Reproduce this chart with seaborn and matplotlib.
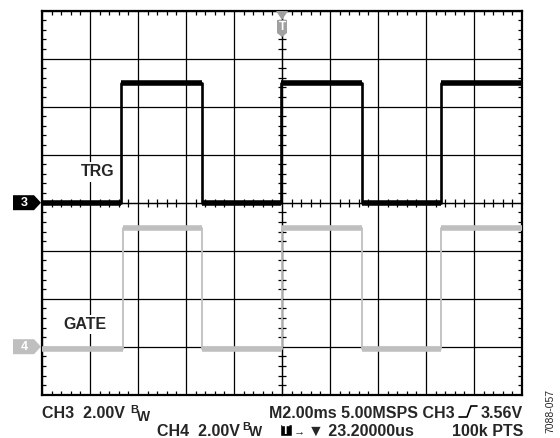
#!/usr/bin/env python3
import matplotlib
matplotlib.use('Agg')
import matplotlib.pyplot as plt
import matplotlib.ticker as plticker
from matplotlib.patches import Polygon
import seaborn as sns

# scope screen: 2 ms/div on x (trigger at centre), 2 V/div on y, values in divisions
trg_edges_ms = [-10.0, -6.71, -3.35, -0.04, 3.32, 6.61, 10.0]
trg_levels_div = [0.0, 2.5, 0.0, 2.5, 0.0, 2.5, 2.5]
gate_edges_ms = [-10.0, -6.64, -3.33, 0.0, 3.32, 6.63, 10.0]
gate_levels_div = [-3.05, -0.53, -3.05, -0.53, -3.05, -0.53, -0.53]

ch3_ground_div = 0.0
ch4_ground_div = -3.0
trace_labels = ['TRG', 'GATE']

status_row1 = ['CH3  2.00V', 'M2.00ms 5.00MSPS CH3', '3.56V']
status_row2 = ['CH4  2.00V', '\u2192', '\u25bc 23.20000us', '100k PTS']
figure_code = '7088-057'

BLACK = '#000000'
GRAY = '#bfbfbf'
MARKER_GRAY = '#a0a0a0'
W, H = 560, 438


def px(x, y):
    # pixel position (from top-left) -> figure fraction
    return x / W, 1 - y / H


def main():
    sns.set_style('white')
    plt.rcParams['font.family'] = ['Liberation Sans', 'DejaVu Sans']

    fig = plt.figure(figsize=(W / 100, H / 100), dpi=100)
    l, b = px(42, 394.7)
    ax = fig.add_axes([l, b, 480 / W, 384 / H])
    ax.set_xlim(-10, 10)
    ax.set_ylim(-4, 4)

    # grid and ticks
    ax.xaxis.set_major_locator(plticker.MultipleLocator(2))
    ax.yaxis.set_major_locator(plticker.MultipleLocator(1))
    ax.xaxis.set_minor_locator(plticker.MultipleLocator(0.4))
    ax.yaxis.set_minor_locator(plticker.MultipleLocator(0.2))
    ax.grid(True, which='major', color=BLACK, lw=0.9, zorder=0)
    ax.tick_params(which='major', length=0, labelbottom=False, labelleft=False)
    ax.tick_params(which='minor', direction='in', length=3, width=0.9, color=BLACK,
                   top=True, right=True, bottom=True, left=True)
    for sp in ax.spines.values():
        sp.set_color(BLACK)
        sp.set_linewidth(1.6)

    # centre cross lines with ticks
    sec_x = ax.secondary_xaxis(0.5)
    sec_y = ax.secondary_yaxis(0.5)
    for sec, axis, major, minor in ((sec_x, sec_x.xaxis, 2, 0.4), (sec_y, sec_y.yaxis, 1, 0.2)):
        axis.set_major_locator(plticker.MultipleLocator(major))
        axis.set_minor_locator(plticker.MultipleLocator(minor))
        sec.tick_params(which='major', length=0, labelbottom=False, labelleft=False,
                        labeltop=False, labelright=False)
        sec.tick_params(which='minor', direction='inout', length=6, width=0.9, color=BLACK)
        for sp in sec.spines.values():
            sp.set_color(BLACK)
            sp.set_linewidth(0.9)

    # traces
    for edges, levels, color, lw in ((gate_edges_ms, gate_levels_div, GRAY, 1.3),
                                     (trg_edges_ms, trg_levels_div, BLACK, 1.9)):
        sns.lineplot(x=edges, y=levels, drawstyle='steps-post', color=color, lw=lw,
                     estimator=None, sort=False, ax=ax, zorder=3)
        ax.hlines(levels[:-1], edges[:-1], edges[1:], color=color, lw=4.0, zorder=3)

    # trace labels
    label_box = dict(facecolor='white', edgecolor='none', pad=1.5)
    ax.text(-7.67, 0.64, trace_labels[0], fontsize=11.5, fontweight='bold', ha='center',
            va='center', bbox=label_box, zorder=4)
    ax.text(-8.2, -2.53, trace_labels[1], fontsize=11.5, fontweight='bold', ha='center',
            va='center', bbox=label_box, zorder=4)

    # ground markers on the left
    for ground, color, name in ((ch3_ground_div, BLACK, '3'), (ch4_ground_div, GRAY, '4')):
        yc = 202.7 - ground * 48
        pts = [px(13, yc - 7.5), px(34, yc - 7.5), px(41, yc), px(34, yc + 7.5), px(13, yc + 7.5)]
        fig.patches.append(Polygon(pts, closed=True, transform=fig.transFigure,
                                   facecolor=color, edgecolor='none'))
        fig.text(*px(24, yc), name, color='white', fontsize=9, fontweight='bold',
                 ha='center', va='center')

    # trigger marker on top
    fig.patches.append(Polygon([px(276, 11), px(288, 11), px(282, 20)], closed=True,
                               transform=fig.transFigure, facecolor=MARKER_GRAY, edgecolor='none'))
    fig.patches.append(Polygon([px(277, 20), px(287, 20), px(287, 33), px(282, 37), px(277, 33)],
                               closed=True, transform=fig.transFigure,
                               facecolor=MARKER_GRAY, edgecolor='none'))
    fig.text(*px(282, 27.5), 'T', color='white', fontsize=8.5, fontweight='bold',
             ha='center', va='center')

    # status lines
    st = dict(fontsize=11.5, fontweight='bold', va='baseline')
    fig.text(*px(42, 418), status_row1[0], ha='left', **st)
    fig.text(*px(130, 413), 'B', ha='left', fontsize=8, fontweight='bold', va='baseline')
    fig.text(*px(137, 421), 'W', ha='left', fontsize=10, fontweight='bold', va='baseline')
    fig.text(*px(455, 418), status_row1[1], ha='right', **st)
    fig.text(*px(523, 418), status_row1[2], ha='right', **st)
    # rising edge symbol
    fig.lines.append(plt.Line2D([px(459, 0)[0], px(467, 0)[0], px(471, 0)[0], px(477, 0)[0]],
                                [px(0, 417)[1], px(0, 417)[1], px(0, 406)[1], px(0, 406)[1]],
                                transform=fig.transFigure, color=BLACK, lw=1.2))

    fig.text(*px(157, 436), status_row2[0], ha='left', **st)
    fig.text(*px(242, 430), 'B', ha='left', fontsize=8, fontweight='bold', va='baseline')
    fig.text(*px(249, 436.3), 'W', ha='left', fontsize=10, fontweight='bold', va='baseline')
    fig.patches.append(Polygon([px(280, 424), px(292, 424), px(292, 436), px(280, 436)],
                               closed=True, transform=fig.transFigure, facecolor=BLACK))
    fig.text(*px(286, 430.5), 'T', color='white', fontsize=9, fontweight='bold',
             ha='center', va='center')
    fig.text(*px(294, 434), status_row2[1], ha='left', fontsize=8, fontweight='bold',
             va='baseline')
    fig.text(*px(414, 436), status_row2[2], ha='right', **st)
    fig.text(*px(523, 436), status_row2[3], ha='right', **st)

    fig.text(*px(550, 411), figure_code, rotation=90, fontsize=7.5, ha='center', va='center')

    fig.savefig('out.png', dpi=100)


if __name__ == '__main__':
    main()
